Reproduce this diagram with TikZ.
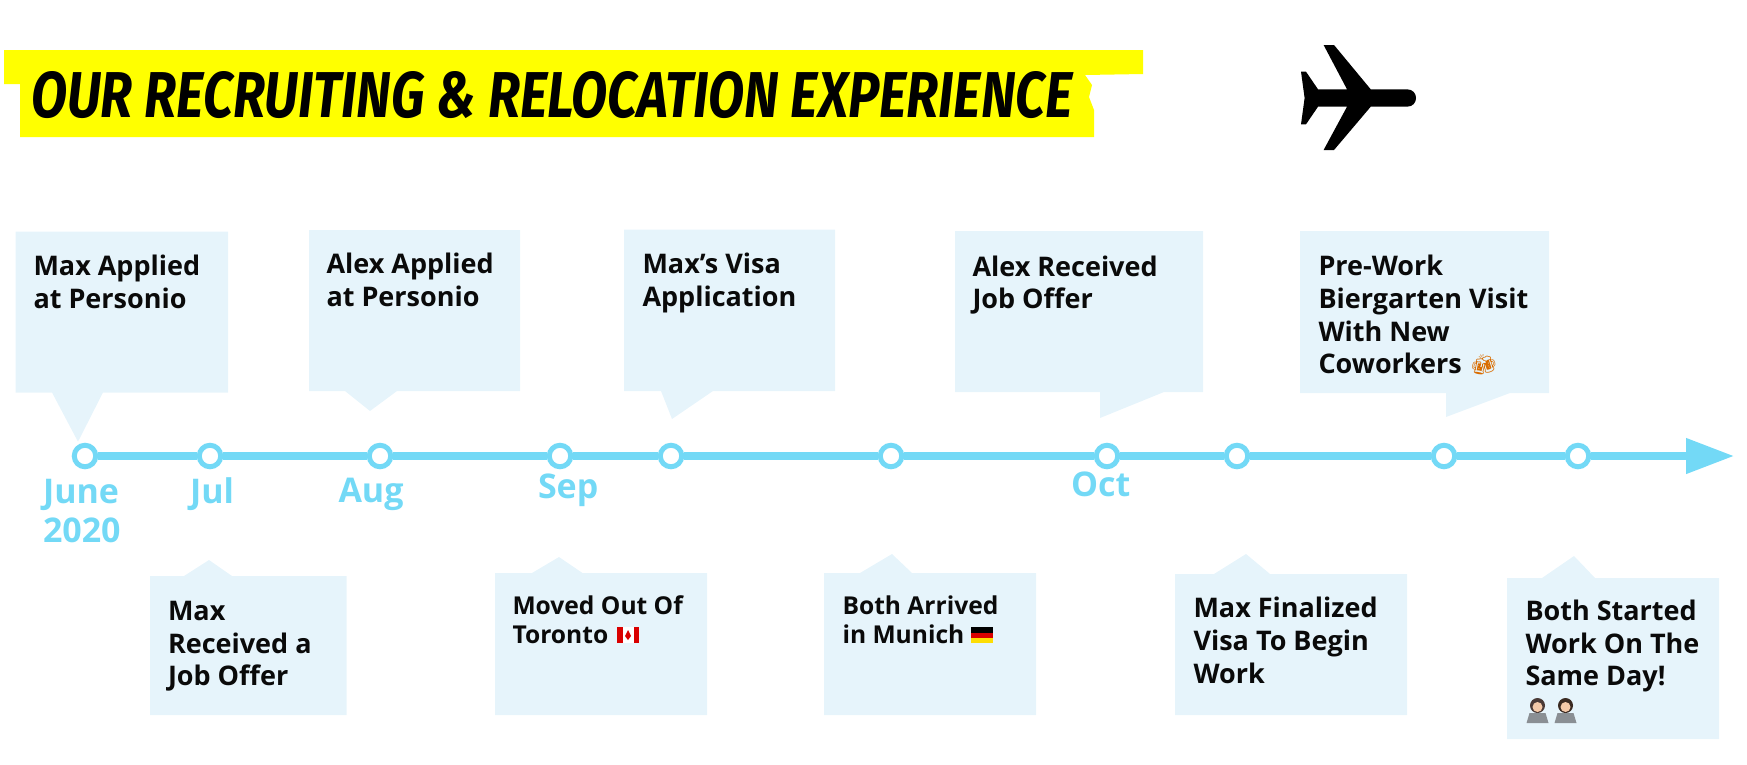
\documentclass[tikz,border=0pt]{standalone}
\usepackage{fontspec}
\setmainfont{Open Sans}
\newfontfamily\titlefont{Fira Sans}
\newfontfamily\emojifont{Noto Emoji}
\usetikzlibrary{arrows.meta}
\definecolor{boxblue}{HTML}{E6F4FB}
\definecolor{tline}{HTML}{73D9F6}
\definecolor{banner}{HTML}{FFFF00}
\definecolor{ink}{HTML}{0A0A0A}
\definecolor{skin}{HTML}{F4C9A8}
\definecolor{hairA}{HTML}{4A3A36}
\definecolor{hairB}{HTML}{3A2A22}
\definecolor{laptop}{HTML}{8A8F94}
\tikzset{
  x=1pt,y=-1pt,
  callout/.style={fill=boxblue,draw=none},
  tl/.style={inner sep=0pt,outer sep=0pt,anchor=base west,align=left,text=ink,font=\bfseries\fontsize{27}{32.7}\selectfont},
  ts/.style={tl,font=\bfseries\fontsize{24.6}{29}\selectfont},
  month/.style={inner sep=0pt,outer sep=0pt,anchor=base west,align=left,text=tline,font=\bfseries\fontsize{34}{38.7}\selectfont},
  dot/.style={circle,draw=tline,fill=white,line width=5pt,minimum size=21.5pt,inner sep=0pt},
  tlpath/.style={draw=tline,line width=7.5pt}
}
\newcommand{\techie}[2]{%
  \fill[#2] (#1,705.5) circle (7.5);
  \fill[skin] (#1,707) circle (5);
  \fill[laptop] (#1-11,723) -- (#1-8,713) -- (#1+8,713) -- (#1+11,723) -- cycle;
}
\begin{document}
\begin{tikzpicture}
\useasboundingbox (0,0) rectangle (1747,764);
% banner
\fill[banner] (4,50) -- (1143,50) -- (1143,74) -- (1085,75) -- (1092,85) -- (1089,97) -- (1094,110) -- (1094,137) -- (20,137) -- (20,84) -- (4,84) -- cycle;
\node[inner sep=0pt,anchor=west] (title) at (31,95) {\resizebox{1041pt}{46pt}{\titlefont\bfseries\itshape OUR RECRUITING \& RELOCATION EXPERIENCE}};
% plane
\fill[black] (1323.6,45) -- (1334,45) -- (1370.7,89.3) -- (1407,89.3)
  .. controls (1419,89.3) and (1419,106.7) .. (1407,106.7) -- (1370.7,106.7) -- (1334,150) -- (1323.6,150) -- (1347,106.7) -- (1318,106.7)
  -- (1306,124.3) -- (1301,124.3) -- (1304.6,98) -- (1301,71.7) -- (1306,71.7) -- (1318,89.3) -- (1347,89.3) -- cycle;
% upper callouts
\fill[callout] (15.5,231.5) -- (228,231.5) -- (228,392.5) -- (103,392.5) -- (78,441.7) -- (52,392.5) -- (15.5,392.5) -- cycle;
\fill[callout] (309,230) -- (520,230) -- (520,391) -- (397,391) -- (370,411) -- (345,391) -- (309,391) -- cycle;
\fill[callout] (624,229.5) -- (835,229.5) -- (835,391) -- (713,391) -- (672,419) -- (661,391) -- (624,391) -- cycle;
\fill[callout] (955,231) -- (1203,231) -- (1203,392) -- (1164,392) -- (1100,418) -- (1100,392) -- (955,392) -- cycle;
\fill[callout] (1300,231) -- (1549,231) -- (1549,393) -- (1510,393) -- (1446,417) -- (1446,393) -- (1300,393) -- cycle;
% lower callouts
\fill[callout] (150,576) -- (184,576) -- (209,560) -- (232,576) -- (346.5,576) -- (346.5,715) -- (150,715) -- cycle;
\fill[callout] (495,573) -- (532,573) -- (559,557) -- (582.5,573) -- (707,573) -- (707,715) -- (495,715) -- cycle;
\fill[callout] (824,573) -- (860,573) -- (892,554) -- (912,573) -- (1036,573) -- (1036,715) -- (824,715) -- cycle;
\fill[callout] (1175,574) -- (1214,574) -- (1246,554) -- (1270,574) -- (1407,574) -- (1407,715) -- (1175,715) -- cycle;
\fill[callout] (1507,578) -- (1542,578) -- (1574,556) -- (1595,578) -- (1719,578) -- (1719,739) -- (1507,739) -- cycle;
% timeline
\coordinate (tip) at (1734,456);
\node[dot] (c1) at (85,456) {};
\node[dot] (c2) at (210,456) {};
\node[dot] (c3) at (380,456) {};
\node[dot] (c4) at (560,456) {};
\node[dot] (c5) at (671,456) {};
\node[dot] (c6) at (891,456) {};
\node[dot] (c7) at (1107,456) {};
\node[dot] (c8) at (1237,456) {};
\node[dot] (c9) at (1444,456) {};
\node[dot] (c10) at (1578,456) {};
\draw[tlpath] (c1) -- (c2);
\draw[tlpath] (c2) -- (c3);
\draw[tlpath] (c3) -- (c4);
\draw[tlpath] (c4) -- (c5);
\draw[tlpath] (c5) -- (c6);
\draw[tlpath] (c6) -- (c7);
\draw[tlpath] (c7) -- (c8);
\draw[tlpath] (c8) -- (c9);
\draw[tlpath] (c9) -- (c10);
\draw[tlpath,-{Triangle[length=48pt,width=34pt,fill=tline]}] (c10) -- (tip);
% months
\node[month] (m1) at (43,503) {June};
\node[month] (m1b) at (43,542.5) {2020};
\node[month] (m2) at (190,503) {Jul};
\node[month] (m3) at (338.5,502) {Aug};
\node[month] (m4) at (538,498) {Sep};
\node[month] (m5) at (1071,496) {Oct};
% texts
\node[tl] (t1a) at (33.5,275) {Max Applied};
\node[tl] (t1b) at (33.5,308) {at Personio};
\node[tl] (t3a) at (326.5,273) {Alex Applied};
\node[tl] (t3b) at (326.5,306) {at Personio};
\node[tl] (t5a) at (642.5,273.5) {Max’s Visa};
\node[tl] (t5b) at (642.5,306.4) {Application};
\node[tl] (t7a) at (972.5,276) {Alex Received};
\node[tl] (t7b) at (972.5,308.6) {Job Offer};
\node[tl] (t9a) at (1318.5,275.5) {Pre-Work};
\node[tl] (t9b) at (1318.5,308) {Biergarten Visit};
\node[tl] (t9c) at (1318.5,341) {With New};
\node[tl] (t9d) at (1318.5,373.5) {Coworkers};
\node[inner sep=0pt,anchor=base west,text=orange!85!black,font=\emojifont\fontsize{20}{20}\selectfont] (beer) at (1471,371) {🍻};
\node[tl] (t2a) at (168,620.6) {Max};
\node[tl] (t2b) at (168,653) {Received a};
\node[tl] (t2c) at (168,685) {Job Offer};
\node[ts] (t4a) at (512.5,614) {Moved Out Of};
\node[ts] (t4b) at (512.5,643) {Toronto};
\node[ts] (t6a) at (842.5,614) {Both Arrived};
\node[ts] (t6b) at (842.5,643) {in Munich};
\node[tl] (t8a) at (1193.5,617) {Max Finalized};
\node[tl] (t8b) at (1193.5,650.5) {Visa To Begin};
\node[tl] (t8c) at (1193.5,683) {Work};
\node[tl] (t10a) at (1525.5,620) {Both Started};
\node[tl] (t10b) at (1525.5,653) {Work On The};
\node[tl] (t10c) at (1525.5,685) {Same Day!};
% Canada flag
\fill[white] (617,627) rectangle (639,643);
\fill[red!85!black] (617,627) rectangle (622.5,643);
\fill[red!85!black] (633.5,627) rectangle (639,643);
\fill[red!85!black] (628,630) -- (631,636) -- (628,640) -- (625,636) -- cycle;
% Germany flag
\fill[black] (970.5,627) rectangle (993,632.5);
\fill[red!85!black] (970.5,632.5) rectangle (993,638);
\fill[yellow!80!orange] (970.5,638) rectangle (993,643);
% technologists
\techie{1537.5}{hairA}
\techie{1565.5}{hairB}
\end{tikzpicture}
\end{document}
